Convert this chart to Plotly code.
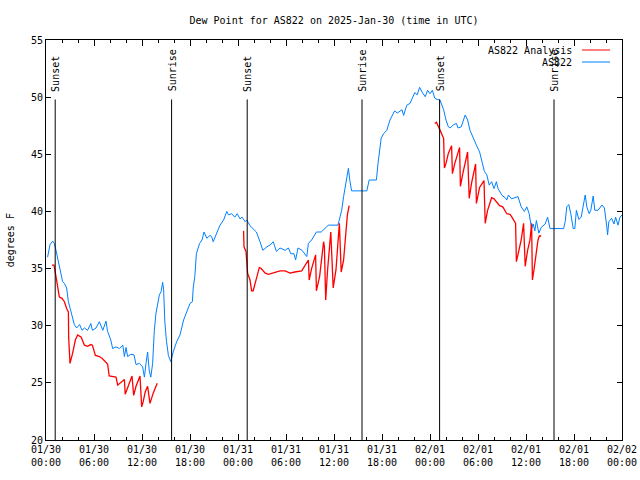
import plotly.graph_objects as go

# ---- data (hours since 2025-01-30 00:00 UTC) ----
blue_h = [0.2, 0.5, 0.83, 1.04, 1.25, 1.58, 1.88, 2.08, 2.3, 2.58, 2.8, 3.1, 3.54, 3.83, 4.2, 4.5, 4.8, 5.2,
          5.6, 5.8, 6.25, 6.67, 7.1, 7.5, 7.7, 8.1, 8.33, 8.75, 9.17, 9.6, 9.8, 10.0, 10.2, 10.6, 11.0, 11.25,
          11.67, 12.08, 12.3, 12.5, 12.7, 12.9, 13.1, 13.33, 13.54, 13.75, 14.17, 14.4, 14.58, 14.7, 14.85,
          15.05, 15.3, 15.6, 15.9, 16.33, 16.75, 17.2, 17.6, 18.0, 18.3, 18.4, 18.6, 18.8, 19.2, 19.5, 19.75,
          20.1, 20.5, 20.7, 20.9, 21.3, 21.75, 22.2, 22.6, 22.8, 23.2, 23.6, 23.9, 24.25, 24.5, 24.9, 25.1,
          25.5, 25.9, 26.3, 26.75, 27.1, 27.6, 28.0, 28.4, 28.8, 29.25, 29.9, 30.3, 30.6, 31.0, 31.2, 31.5,
          32.0, 32.6, 32.8, 33.2, 33.8, 34.4, 34.9, 35.3, 36.5, 36.75, 36.96, 37.2, 37.4, 37.6, 37.8, 38.0,
          38.2, 40.1, 40.4, 41.3, 41.5, 41.9, 42.2, 42.6, 43.0, 43.5, 43.6, 43.9, 44.5, 44.7, 45.1, 45.5,
          45.8, 46.1, 46.4, 46.7, 47.0, 47.4, 47.7, 48.0, 48.3, 48.6, 48.9, 49.25, 49.7, 50.0, 50.3, 50.5,
          50.9, 51.3, 51.5, 51.9, 52.4, 52.7, 53.0, 53.4, 53.8, 54.2, 54.5, 54.8, 55.1, 55.4, 55.7, 56.0,
          56.3, 56.5, 57.0, 57.4, 57.6, 57.8, 58.2, 59.0, 59.4, 59.8, 60.1, 60.4, 60.7, 60.9, 61.1, 61.3,
          61.6, 61.9, 62.4, 62.7, 63.0, 63.5, 64.7, 64.9, 65.1, 65.35, 65.6, 65.9, 66.1, 66.3, 66.6, 66.9,
          67.4, 67.6, 67.9, 68.1, 68.4, 68.6, 69.0, 69.5, 69.8, 70.1, 70.2, 70.35, 70.7, 71.0, 71.2, 71.5,
          71.75, 72.0]
blue_v = [36.0, 37.1, 37.4, 37.2, 36.6, 35.6, 34.6, 33.85, 33.7, 33.3, 32.1, 31.2, 30.1, 29.8, 30.1, 29.6, 29.8, 29.6,
          30.2, 29.6, 29.8, 30.35, 29.6, 30.4, 29.5, 28.75, 28.0, 28.15, 28.0, 28.3, 27.3, 28.1, 27.3, 27.5, 27.45, 26.6,
          26.7, 26.4, 25.5, 26.7, 27.7, 26.1, 25.5, 26.7, 29.6, 31.1, 32.7, 33.0, 33.8, 33.2, 30.4,
          28.7, 27.4, 26.85, 27.7, 28.6, 29.2, 30.5, 31.2, 31.95, 32.1, 33.3, 34.3, 36.3, 37.2, 37.5, 38.2,
          37.65, 37.9, 37.8, 37.35, 38.1, 38.8, 39.25, 40.0, 39.7, 39.8, 39.5, 39.8, 39.35, 39.5, 39.1, 39.25,
          38.75, 38.5, 38.2, 37.35, 36.6, 36.9, 37.06, 37.35, 36.5, 36.8, 36.6, 36.8, 36.3, 36.3, 35.75, 36.8,
          36.6, 36.05, 37.2, 37.5, 38.2, 38.2, 38.5, 38.8, 38.8, 39.55, 40.1, 41.3, 42.2, 43.0, 43.77, 42.6,
          41.8, 41.8, 42.75, 42.75, 44.2, 46.4, 46.8, 47.1, 48.0, 48.7, 48.8, 48.6, 48.9, 48.4, 49.3, 49.45,
          49.9, 50.4, 50.2, 50.86, 50.45, 50.04, 50.6, 50.3, 50.6, 49.9, 49.8, 49.75, 48.9, 48.0, 47.4, 47.3,
          47.56, 47.7, 47.3, 47.4, 48.44, 48.0, 47.1, 46.4, 45.8, 45.2, 44.2, 43.5, 43.2, 42.3, 42.6, 42.0,
          42.6, 42.0, 41.4, 41.2, 41.0, 41.44, 41.1, 41.3, 40.4, 40.0, 40.4, 39.8, 38.5, 38.9, 38.3, 39.2,
          38.1, 38.6, 38.9, 39.5, 38.5, 38.5, 38.5, 39.1, 40.4, 40.6, 39.8, 38.5, 38.5, 40.1, 39.3, 39.5,
          41.44, 40.4, 39.8, 40.1, 41.35, 40.1, 40.1, 40.56, 40.3, 38.67, 37.94, 39.1, 39.4, 38.9, 39.5, 38.8,
          39.5, 39.7]

red1_h = [0.75, 1.0, 1.25, 1.46, 1.67, 2.0, 2.3, 2.58, 2.8, 2.83, 3.0, 3.33, 3.67, 3.96, 4.4, 4.8, 5.2, 5.6,
          5.8, 6.17, 6.67, 7.0, 7.7, 7.9, 8.75, 8.96, 9.25, 9.8, 9.9, 10.3, 10.75, 10.96, 11.25, 11.75, 11.96,
          12.15, 12.4, 12.7, 13.0, 13.4, 13.9]
red1_v = [35.3, 35.3, 34.3, 33.4, 32.5, 32.4, 32.1, 31.5, 31.2, 29.0, 26.7, 27.6, 28.75, 29.2, 29.0, 28.3, 28.2, 28.35,
          28.3, 27.4, 27.3, 27.15, 26.65, 25.6, 25.5, 24.8, 24.95, 25.3, 24.0, 24.8, 25.6, 23.9, 24.7, 25.6, 22.9,
          23.35, 24.2, 24.7, 23.2, 24.1, 24.96]
red2_h = [24.7, 24.75, 25.0, 25.05, 25.2, 25.5, 25.7, 25.9, 26.25, 26.67, 26.9, 27.4, 27.8, 28.4, 29.25, 29.9,
          30.5, 31.1, 31.96, 32.8, 32.9, 33.2, 33.7, 33.8, 34.2, 34.7, 34.8, 34.96, 35.2, 35.6, 35.9, 36.25,
          36.67, 36.9, 37.2, 37.67, 37.9]
red2_v = [38.3, 36.9, 36.5, 36.0, 34.6, 34.0, 33.06, 33.06, 34.0, 35.1, 35.0, 34.6, 34.5, 34.6, 34.8, 34.8,
          34.6, 34.7, 34.8, 35.75, 34.0, 35.0, 36.2, 33.06, 34.3, 37.35, 36.9, 32.25, 34.9, 38.2, 33.3, 34.9,
          38.96, 34.7, 35.75, 39.7, 40.5]
red3_h = [48.6, 48.8, 49.2, 49.5, 49.7, 49.8, 50.0, 50.3, 50.7, 50.8, 51.1, 51.7, 51.8, 52.1, 52.7, 52.9, 53.2,
          53.7, 53.8, 54.2, 54.75, 54.9, 55.2, 55.7, 56.0, 56.7, 57.1, 57.6, 58.0, 58.2, 58.6, 58.7, 58.8,
          59.1, 59.4, 59.7, 59.9, 60.2, 60.5, 60.7, 60.8, 61.0, 61.3, 61.5, 61.67, 61.9]
red3_v = [47.7, 47.8, 47.2, 46.8, 46.4, 43.8, 44.2, 45.1, 45.75, 43.3, 44.2, 45.6, 42.2, 43.3, 45.2, 41.15, 42.5,
          44.15, 40.7, 42.1, 42.7, 38.96, 40.1, 41.2, 41.1, 40.5, 40.4, 39.8, 39.75, 39.55, 39.1, 38.96, 35.6,
          36.5, 37.5, 38.96, 35.2, 36.6, 37.5, 38.96, 34.0, 34.9, 36.3, 37.5, 37.85, 37.85]

sun_labels = ["Sunset", "Sunrise", "Sunset", "Sunrise", "Sunset", "Sunrise"]
sun_hours = [1.15, 15.7, 25.15, 39.5, 49.2, 63.5]
sun_line_top = 49.8

tick_hours = [0, 6, 12, 18, 24, 30, 36, 42, 48, 54, 60, 66, 72]
tick_labels = ["01/30<br>00:00", "01/30<br>06:00", "01/30<br>12:00", "01/30<br>18:00",
               "01/31<br>00:00", "01/31<br>06:00", "01/31<br>12:00", "01/31<br>18:00",
               "02/01<br>00:00", "02/01<br>06:00", "02/01<br>12:00", "02/01<br>18:00",
               "02/02<br>00:00"]

series_names = ["AS822 Analysis", "AS822"]
RED = "#ff0000"
BLUE = "#0080ff"
FONT = "DejaVu Sans Mono"

fig = go.Figure()
fig.add_trace(go.Scatter(x=blue_h, y=blue_v, mode="lines", line=dict(color=BLUE, width=1),
                         name=series_names[1], showlegend=False))
red_h = red1_h + [None] + red2_h + [None] + red3_h
red_v = red1_v + [None] + red2_v + [None] + red3_v
fig.add_trace(go.Scatter(x=red_h, y=red_v, mode="lines", line=dict(color=RED, width=1.3),
                         name=series_names[0], showlegend=False, connectgaps=False))

shapes = []
annotations = []
for lab, h in zip(sun_labels, sun_hours):
    shapes.append(dict(type="line", xref="x", yref="y", x0=h, x1=h, y0=20, y1=sun_line_top,
                       line=dict(color="black", width=1)))
    annotations.append(dict(x=h, y=50.3, xref="x", yref="y", text=lab, textangle=-90,
                            showarrow=False, xanchor="center", yanchor="bottom", xshift=1,
                            font=dict(family=FONT, size=10, color="black")))

# custom legend (text left, sample line right)
for i, (nm, col) in enumerate(zip(series_names, [RED, BLUE])):
    yp = 0.975 - i * 0.03
    annotations.append(dict(x=0.9167, y=yp, xref="paper", yref="paper", text=nm, showarrow=False,
                            xanchor="right", yanchor="middle", font=dict(family=FONT, size=10, color="black")))
    shapes.append(dict(type="line", xref="paper", yref="paper", x0=0.9306, x1=0.9792, y0=yp, y1=yp,
                       line=dict(color=col, width=1)))

annotations.append(dict(x=-0.062, y=0.5, xref="paper", yref="paper", text="degrees F", textangle=-90,
                        showarrow=False, xanchor="center", yanchor="middle",
                        font=dict(family=FONT, size=10, color="black")))

fig.update_layout(
    width=640, height=480, autosize=False,
    margin=dict(l=46, r=18, t=40, b=40, autoexpand=False),
    paper_bgcolor="white", plot_bgcolor="white",
    title=dict(text="Dew Point for AS822 on 2025-Jan-30 (time in UTC)", x=0.5, xref="paper",
               y=1 - 20 / 480, yref="container", yanchor="middle",
               font=dict(family=FONT, size=10, color="black")),
    shapes=shapes, annotations=annotations,
    showlegend=False,
    font=dict(family=FONT, size=10, color="black"),
)
fig.update_xaxes(range=[0, 72], tickmode="array", tickvals=tick_hours, ticktext=tick_labels,
                 ticks="inside", ticklen=6, tickcolor="black", mirror="ticks", showline=True,
                 linecolor="black", linewidth=1, showgrid=False, zeroline=False, automargin=False,
                 tickfont=dict(family=FONT, size=10, color="black"),
                 minor=dict(tickmode="linear", tick0=0, dtick=2, ticks="inside", ticklen=3,
                            tickcolor="black", showgrid=False))
fig.update_yaxes(range=[20, 55], tickmode="linear", tick0=20, dtick=5,
                 ticks="inside", ticklen=5, tickcolor="black", mirror="ticks", showline=True,
                 linecolor="black", linewidth=1, showgrid=False, zeroline=False, automargin=False,
                 tickfont=dict(family=FONT, size=10, color="black"))

fig.write_html("out.html",
               config={"responsive": False, "displayModeBar": False, "staticPlot": True},
               post_script="document.body.style.margin='0';document.body.style.overflow='hidden';")
